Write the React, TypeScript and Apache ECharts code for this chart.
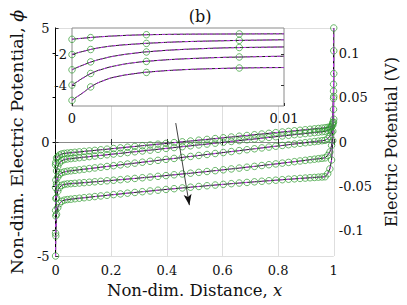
import React, { useEffect, useRef } from "react";
import * as echarts from "echarts";

// Chebyshev-type mesh nodes (non-dim distance)
const nodeX = [0, 0.00088, 0.00351, 0.00789, 0.01399, 0.0218, 0.03129, 0.04243, 0.05517, 0.06948, 0.0853, 0.10257, 0.12124, 0.14125, 0.16251, 0.18495, 0.20851, 0.23309, 0.2586, 0.28497, 0.31208, 0.33986, 0.36821, 0.39701, 0.42617, 0.4556, 0.48518, 0.51482, 0.5444, 0.57383, 0.60299, 0.63179, 0.66014, 0.68792, 0.71503, 0.7414, 0.76691, 0.79149, 0.81505, 0.83749, 0.85875, 0.87876, 0.89743, 0.9147, 0.93052, 0.94483, 0.95757, 0.96871, 0.9782, 0.98601, 0.99211, 0.99649, 0.99912, 1];

const phi1 = [-1, -0.89, -0.70, -0.65, -0.57, -0.525, -0.50, -0.485, -0.470, -0.453, -0.434, -0.413, -0.391, -0.367, -0.342, -0.315, -0.287, -0.257, -0.227, -0.195, -0.163, -0.130, -0.096, -0.062, -0.027, 0.008, 0.044, 0.079, 0.115, 0.150, 0.185, 0.219, 0.253, 0.286, 0.318, 0.350, 0.380, 0.410, 0.438, 0.465, 0.490, 0.514, 0.536, 0.557, 0.576, 0.593, 0.608, 0.622, 0.640, 0.660, 0.69, 0.74, 0.87, 1.0];
const phi2 = [-2, -1.67, -1.27, -1.07, -0.92, -0.82, -0.77, -0.745, -0.728, -0.709, -0.689, -0.666, -0.642, -0.616, -0.588, -0.559, -0.528, -0.496, -0.463, -0.428, -0.393, -0.357, -0.320, -0.282, -0.244, -0.205, -0.167, -0.128, -0.090, -0.051, -0.013, 0.024, 0.061, 0.098, 0.133, 0.168, 0.201, 0.233, 0.264, 0.293, 0.321, 0.347, 0.371, 0.394, 0.414, 0.433, 0.450, 0.464, 0.51, 0.56, 0.66, 0.86, 1.43, 2.0];
const phi3 = [-3, -2.48, -1.83, -1.54, -1.42, -1.35, -1.31, -1.282, -1.263, -1.242, -1.219, -1.194, -1.167, -1.137, -1.106, -1.073, -1.039, -1.003, -0.966, -0.927, -0.887, -0.847, -0.805, -0.763, -0.721, -0.677, -0.634, -0.591, -0.548, -0.504, -0.462, -0.420, -0.378, -0.338, -0.298, -0.259, -0.222, -0.186, -0.152, -0.119, -0.088, -0.058, -0.031, -0.006, 0.017, 0.038, 0.057, 0.073, 0.15, 0.24, 0.43, 0.80, 1.91, 3.0];
const phi4 = [-4, -3.24, -2.45, -2.16, -2.0, -1.90, -1.86, -1.839, -1.827, -1.814, -1.799, -1.783, -1.765, -1.746, -1.725, -1.702, -1.678, -1.653, -1.626, -1.598, -1.568, -1.538, -1.506, -1.473, -1.438, -1.403, -1.368, -1.331, -1.294, -1.257, -1.219, -1.181, -1.144, -1.106, -1.069, -1.032, -0.996, -0.961, -0.927, -0.895, -0.863, -0.833, -0.805, -0.779, -0.755, -0.733, -0.713, -0.696, -0.59, -0.44, -0.15, 0.47, 2.23, 4.0];
const phi5 = [-5, -4.12, -3.17, -2.88, -2.70, -2.60, -2.55, -2.525, -2.508, -2.488, -2.467, -2.444, -2.420, -2.393, -2.366, -2.337, -2.308, -2.277, -2.245, -2.213, -2.180, -2.148, -2.114, -2.081, -2.048, -2.015, -1.982, -1.950, -1.919, -1.888, -1.858, -1.828, -1.800, -1.773, -1.747, -1.722, -1.698, -1.676, -1.654, -1.634, -1.616, -1.598, -1.583, -1.568, -1.555, -1.543, -1.533, -1.524, -1.39, -1.18, -0.79, 0.06, 2.53, 5.0];

// Inset (0 <= x <= 0.01) curves
const insetX = [0, 0.0002, 0.0005, 0.001, 0.0015, 0.002, 0.003, 0.004, 0.005, 0.006, 0.007, 0.008, 0.009, 0.01];
const inset1 = [-1.0, -0.97, -0.93, -0.87, -0.82, -0.78, -0.72, -0.69, -0.67, -0.66, -0.655, -0.65, -0.645, -0.64];
const inset2 = [-2.0, -1.91, -1.80, -1.63, -1.51, -1.42, -1.31, -1.23, -1.17, -1.13, -1.10, -1.07, -1.05, -1.03];
const inset3 = [-3.0, -2.87, -2.70, -2.44, -2.25, -2.10, -1.90, -1.77, -1.68, -1.62, -1.57, -1.54, -1.52, -1.50];
const inset4 = [-4.0, -3.82, -3.55, -3.17, -2.93, -2.75, -2.52, -2.39, -2.30, -2.24, -2.19, -2.16, -2.13, -2.11];
const inset5 = [-5.0, -4.80, -4.52, -4.02, -3.70, -3.48, -3.24, -3.10, -3.01, -2.95, -2.91, -2.88, -2.86, -2.85];

const rightTicks = [-0.1, -0.05, 0, 0.05, 0.1];
const insetYTicks = [-4, -2];
const insetXTicks = [0, 0.01];
const voltsPerPhi = 0.0257;
const arrowFrom = [0.432, 0.83];
const arrowTo = [0.481, -2.77];

const FONT = "DejaVu Serif";
const BLACK = "#000000";
const MAGENTA = "#c63cf2";
const GREEN = "#2f9a2f";

export default function App() {
  const ref = useRef<HTMLDivElement>(null);
  useEffect(() => {
    if (!ref.current) return;
    const chart = echarts.init(ref.current, undefined, { renderer: "svg" });
    const mains = [phi1, phi2, phi3, phi4, phi5];
    const insets = [inset1, inset2, inset3, inset4, inset5];
    const series: any[] = [];
    mains.forEach((p, i) => {
      const d = nodeX.map((x, j) => [x, p[j]]);
      const black: any = {
        type: "line", xAxisIndex: 0, yAxisIndex: 0, data: d, symbol: "none", z: 2,
        lineStyle: { color: BLACK, width: 0.9 }, silent: true,
      };
      if (i === 0) {
        black.markLine = {
          silent: true, symbol: ["none", "arrow"], symbolSize: [6, 11],
          lineStyle: { color: "#111", width: 0.8, type: "solid" },
          label: { show: false },
          data: [[{ coord: arrowFrom }, { coord: arrowTo }]],
        };
      }
      series.push(black);
      series.push({
        type: "line", xAxisIndex: 0, yAxisIndex: 0, data: d, symbol: "none", z: 3,
        lineStyle: { color: MAGENTA, width: 1.0, type: [3, 3] }, silent: true,
      });
      series.push({
        type: "scatter", xAxisIndex: 0, yAxisIndex: 0, data: d, symbol: "circle", symbolSize: 6.5, z: 4, clip: false,
        itemStyle: { color: "rgba(0,0,0,0)", borderColor: GREEN, borderWidth: 0.9 }, silent: true,
      });
    });
    insets.forEach((p, i) => {
      const d = insetX.map((x, j) => [x, p[j]]);
      const m = nodeX.slice(0, 4).map((x, j) => [x, mains[i][j]]);
      series.push({
        type: "line", xAxisIndex: 2, yAxisIndex: 2, data: d, symbol: "none", z: 12, smooth: true,
        lineStyle: { color: BLACK, width: 0.9 }, silent: true,
      });
      series.push({
        type: "line", xAxisIndex: 2, yAxisIndex: 2, data: d, symbol: "none", z: 13, smooth: true,
        lineStyle: { color: MAGENTA, width: 1.0, type: [3, 3] }, silent: true,
      });
      series.push({
        type: "scatter", xAxisIndex: 2, yAxisIndex: 2, data: m, symbol: "circle", symbolSize: 6.5, z: 14, clip: false,
        itemStyle: { color: "rgba(0,0,0,0)", borderColor: GREEN, borderWidth: 0.9 }, silent: true,
      });
    });

    const lab = { fontFamily: FONT, fontSize: 13, color: "#111" };
    const xName = { fontFamily: FONT, fontSize: 16.5, color: "#111" };
    const yName = { fontFamily: FONT, fontSize: 17.5, color: "#111" };
    const rName = { fontFamily: FONT, fontSize: 16, color: "#111" };
    const gray = "#8a8a8a";
    chart.setOption({
      animation: false,
      backgroundColor: "#ffffff",
      title: {
        text: "(b)", left: 195, top: 3, textAlign: "center",
        textStyle: { fontFamily: FONT, fontSize: 16, fontWeight: "normal", color: "#111" },
      },
      grid: [
        { left: 53, top: 28, width: 285, height: 228 },
        { left: 72, top: 28, width: 212, height: 78, show: true, backgroundColor: "#ffffff", borderColor: gray, borderWidth: 1, z: 10 },
      ],
      xAxis: [
        {
          type: "value", gridIndex: 0, min: 0, max: 1, interval: 0.2, position: "bottom",
          axisLine: { lineStyle: { color: gray, width: 1 } },
          axisTick: { inside: true, length: 3, lineStyle: { color: "#333" } },
          axisLabel: { ...lab, margin: 8 },
          splitLine: { show: true, lineStyle: { color: "#dedede", width: 1 } },
          name: "Non-dim. Distance, {i|x}", nameLocation: "middle", nameGap: 24,
          nameTextStyle: { ...xName, rich: { i: { ...xName, fontStyle: "italic" } } },
        },
        {
          type: "value", gridIndex: 0, min: 0, max: 1, interval: 0.2, position: "top",
          axisLine: { lineStyle: { color: gray, width: 1 } },
          axisTick: { inside: true, length: 3, lineStyle: { color: "#333" } },
          axisLabel: { show: false }, splitLine: { show: false },
        },
        {
          type: "value", gridIndex: 1, min: 0, max: 0.01, position: "bottom", z: 11,
          axisLine: { show: false },
          axisTick: { inside: true, length: 3, lineStyle: { color: "#333" }, customValues: insetXTicks },
          axisLabel: { ...lab, margin: 6, customValues: insetXTicks, formatter: (v: number) => (v === 0 ? "0" : String(v)) },
          splitLine: { show: false },
        },
      ],
      yAxis: [
        {
          type: "value", gridIndex: 0, min: -5, max: 5, interval: 5, position: "left",
          axisLine: { show: true, lineStyle: { color: gray, width: 1 } },
          axisTick: { show: true, inside: true, length: 3, lineStyle: { color: "#333" } },
          axisLabel: { ...lab, margin: 6 },
          splitLine: { show: true, lineStyle: { color: "#dedede", width: 1 } },
          name: "Non-dim. Electric Potential, {i|ϕ}", nameLocation: "middle", nameRotate: 90, nameGap: 26,
          nameTextStyle: { ...yName, rich: { i: { ...yName, fontStyle: "italic" } } },
        },
        {
          type: "value", gridIndex: 0, min: -5 * voltsPerPhi, max: 5 * voltsPerPhi, position: "right",
          axisLine: { show: true, lineStyle: { color: "#000", width: 1 } },
          axisTick: { show: true, inside: true, length: 3, lineStyle: { color: "#000" }, customValues: rightTicks },
          axisLabel: { ...lab, margin: 5, customValues: rightTicks, formatter: (v: number) => (Math.abs(v) < 1e-9 ? "0" : String(v)) },
          splitLine: { show: false },
          name: "Electric Potential (V)", nameLocation: "middle", nameRotate: 90, nameGap: 46,
          nameTextStyle: { ...rName },
        },
        {
          type: "value", gridIndex: 1, min: -5.37, max: -0.26, position: "left", z: 11,
          axisLine: { show: false },
          axisTick: { show: true, inside: true, length: 3, lineStyle: { color: "#333" }, customValues: insetYTicks },
          axisLabel: { ...lab, margin: 5, customValues: insetYTicks },
          splitLine: { show: false },
        },
        {
          type: "value", gridIndex: 1, min: -5.37, max: -0.26, position: "right", z: 11,
          axisLine: { show: false },
          axisTick: { show: true, inside: true, length: 3, lineStyle: { color: "#333" }, customValues: insetYTicks },
          axisLabel: { show: false },
          splitLine: { show: false },
        },
      ],
      series,
    });
    return () => chart.dispose();
  }, []);
  return (
    <div
      ref={ref}
      style={{ position: "fixed", left: 0, top: 0, width: 407, height: 305, background: "#fff" }}
    />
  );
}
